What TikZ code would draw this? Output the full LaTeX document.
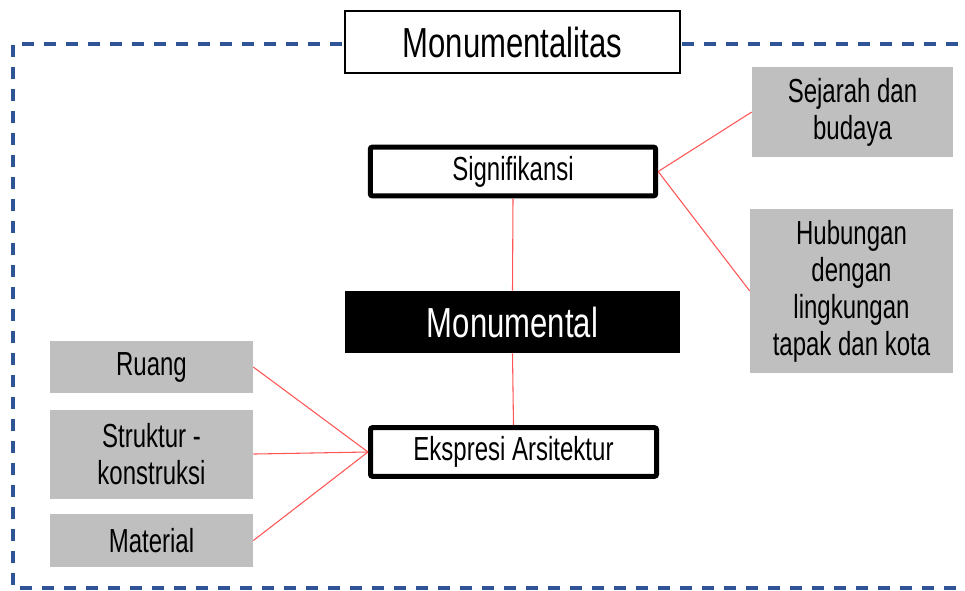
\documentclass[tikz,border=0pt]{standalone}
\usepackage{fontspec}
\setmainfont{Liberation Sans}[FakeStretch=0.72]
\newfontfamily\bigfont{Liberation Sans}[FakeStretch=0.74]
\usepackage{xcolor}
\usepackage{tikz}
\usetikzlibrary{positioning}
\definecolor{framblue}{RGB}{47, 85, 151}
\definecolor{boxgray}{RGB}{191, 191, 191}
\definecolor{linkred}{RGB}{255, 85, 85}
\tikzset{
  titlebox/.style={rectangle, draw=black, line width=1.2pt, fill=white,
              minimum width=251.25pt, minimum height=46.5pt,
              font=\bigfont\fontsize{31.5pt}{34pt}\selectfont},
  mainbox/.style={rectangle, draw=black, line width=3.75pt, fill=white,
              rounded corners=1.5pt, minimum width=#1, minimum height=36.5pt,
              font=\fontsize{25pt}{27.75pt}\selectfont},
  mainbox/.default=214pt,
  corebox/.style={rectangle, fill=black, text=white,
              minimum width=251.25pt, minimum height=46.5pt,
              font=\bigfont\fontsize{31.5pt}{34pt}\selectfont},
  greybox/.style={rectangle, fill=boxgray, minimum width=152.25pt,
              minimum height=#1, align=center, inner sep=2pt,
              font=\fontsize{25pt}{27.75pt}\selectfont},
  greybox/.default=39pt,
  link/.style={linkred, line width=0.8pt},
  frameline/.style={framblue, line width=2.6pt, dash pattern=on 9pt off 7.5pt},
}
\begin{document}
\begin{tikzpicture}[x=0.75pt, y=-0.75pt]
  \useasboundingbox (0,0) rectangle (965,590);

  % outer dashed frame (runs past the right edge)
  \draw[frameline] (980,44) -- (13,44) -- (13,588) -- (980,588);

  \node[titlebox] (title_n) at (512.5,42) {Monumentalitas};

  \node[mainbox] (sig_n) at (513,171.5) {Signifikansi};
  \node[corebox] (mon_n) at (512.5,322) {Monumental};
  \node[mainbox=214.5pt] (eks_n) at (513.5,452) {Ekspresi Arsitektur};

  \node[greybox=67.5pt, minimum width=150.75pt] (sej_n) at (852.5,112) {Sejarah dan\\budaya};
  \node[greybox=123pt] (hub_n) at (851.5,291) {Hubungan\\dengan\\lingkungan\\tapak dan kota};

  \node[greybox] (ruang_n) at (151.5,367) {Ruang};
  \node[greybox=66.75pt, below=12pt of ruang_n] (struk_n) {Struktur -\\konstruksi};
  \node[greybox=39.75pt, below=11.25pt of struk_n] (mat_n) {Material};

  \draw[link] (sig_n.east) -- (sej_n.west);
  \draw[link] (sig_n.east) -- (hub_n.west);
  \draw[link] (sig_n.south) -- (mon_n.north);
  \draw[link] (mon_n.south) -- (eks_n.north);
  \draw[link] (ruang_n.east) -- (eks_n.west);
  \draw[link] (struk_n.east) -- (eks_n.west);
  \draw[link] (mat_n.east) -- (eks_n.west);
\end{tikzpicture}
\end{document}
